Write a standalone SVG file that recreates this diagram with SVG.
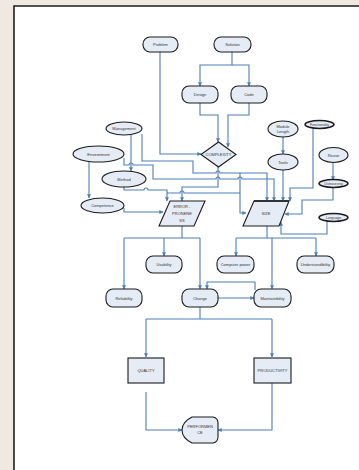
<svg xmlns="http://www.w3.org/2000/svg" width="359" height="470" viewBox="0 0 359 470">
<defs>
<marker id="ah" viewBox="0 0 6 6" refX="5.5" refY="3" markerWidth="4" markerHeight="4" orient="auto" markerUnits="userSpaceOnUse">
<path d="M0,0 L6,3 L0,6 Z" fill="#4a7ebb"/>
</marker>
</defs>
<style>
.bg{fill:#efe9e2}
.page{fill:#ffffff}
.frame{fill:none;stroke:#1e1e1e;stroke-width:1.6}
.n{fill:#e6ecf5;stroke:#1a1a1a;stroke-width:1.1}
.nt{fill:#e6ecf5;stroke:#1a1a1a;stroke-width:1.5}
.c{fill:none;stroke:#4a7ebb;stroke-width:1.1}
.ca{fill:none;stroke:#4a7ebb;stroke-width:1.1;marker-end:url(#ah)}
text{font-family:"Liberation Sans",Arial,sans-serif;font-size:4px;fill:#333;text-anchor:middle}
.s{font-size:3.4px}
</style>
<rect class="bg" x="0" y="0" width="359" height="470"/>
<rect class="page" x="14" y="6" width="345" height="464"/>
<path class="frame" d="M14,470 V6 H359"/>

<g id="connectors">
<path class="ca" d="M160,52 V154 H201"/>
<path class="ca" d="M232,52 V65 H200 V86"/>
<path class="ca" d="M232,65 H249 V86"/>
<path class="ca" d="M200,103 V115 H218 V142"/>
<path class="ca" d="M249,103 V115 H228 V147"/>
<path class="ca" d="M131,135 V171"/>
<path class="ca" d="M142,134 V161 H193 V173 H216 a2,2 0 0 1 4,0 H267 V201"/>
<path class="ca" d="M89,162 V198"/>
<path class="ca" d="M124,158 V165 H129 a2,2 0 0 1 4,0 H153 V179 H216 a2,2 0 0 1 4,0 H238 a2,2 0 0 1 4,0 H274 V201"/>
<path class="ca" d="M218,166 V187 H182 V201"/>
<path class="ca" d="M240,173 V213 H246"/>
<path class="ca" d="M124,187 V190 H144 a2,2 0 0 1 4,0 H167 V201"/>
<path class="c" d="M167,193 H180 a2,2 0 0 1 4,0 H240"/>
<path class="ca" d="M124,208 V212 H163"/>
<path class="ca" d="M283,137 V154"/>
<path class="ca" d="M283,170 V201"/>
<path class="ca" d="M313,128 V188 H290 V201"/>
<path class="ca" d="M333,163 V180"/>
<path class="ca" d="M333,187 V200 H302 V214 H285"/>
<path class="ca" d="M327,221 V234 H281 V222"/>
<path class="c" d="M182,226 V238 M124,238 H200"/>
<path class="ca" d="M124,238 V289"/>
<path class="ca" d="M164,238 V256"/>
<path class="ca" d="M200,238 V289"/>
<path class="c" d="M267,226 V238 M236,238 H316"/>
<path class="ca" d="M236,238 V256"/>
<path class="ca" d="M272,238 V289"/>
<path class="ca" d="M316,238 V256"/>
<path class="ca" d="M218,298 H254"/>
<path class="ca" d="M255,290 V282 H207 V289"/>
<path class="c" d="M200,307 V319 M146,319 H272"/>
<path class="ca" d="M146,319 V357"/>
<path class="ca" d="M272,319 V357"/>
<path class="ca" d="M146,392 V430 H182"/>
<path class="ca" d="M272,383 V430 H218"/>
</g>

<g id="problem"><rect class="n" x="143" y="37" width="35" height="15" rx="7"/><text x="160.5" y="46">Problem</text></g>
<g id="solution"><rect class="n" x="214" y="37" width="37" height="15" rx="7"/><text x="232.5" y="46">Solution</text></g>
<g id="design"><rect class="n" x="182" y="86" width="36" height="17" rx="7"/><text x="200" y="96">Design</text></g>
<g id="code"><rect class="n" x="231" y="86" width="36" height="17" rx="7"/><text x="249" y="96">Code</text></g>
<g id="complexity"><polygon class="n" points="218.5,142 236,154.5 218.5,167 201,154.5"/><text x="218.5" y="156">COMPLEXITY</text></g>
<g id="management"><ellipse class="n" cx="124" cy="128.5" rx="18" ry="6.5"/><text x="124" y="130">Management</text></g>
<g id="environment"><ellipse class="n" cx="98.5" cy="154" rx="25.5" ry="8"/><text x="98.5" y="155.5">Environment</text></g>
<g id="method"><ellipse class="n" cx="124" cy="179" rx="22" ry="8"/><text x="124" y="180.5">Method</text></g>
<g id="competence"><ellipse class="n" cx="102.5" cy="205.5" rx="21.5" ry="7.5"/><text x="102.5" y="207">Competence</text></g>
<g id="error-proneness"><polygon class="n" points="170,201 205,201 194,226 159,226"/><text x="182" y="208">ERROR -</text><text x="182" y="215">PRONENE</text><text x="182" y="222">SS</text></g>
<g id="size"><polygon class="n" points="254,201 289,201 279,226 243,226"/><path d="M254,201 H289" stroke="#333" stroke-width="2"/><text x="266" y="215">SIZE</text></g>
<g id="module-length"><ellipse class="n" cx="283" cy="129" rx="15" ry="8"/><text x="283" y="128">Module</text><text x="283" y="133">Length</text></g>
<g id="tools"><ellipse class="n" cx="283" cy="162" rx="15" ry="8"/><text x="283" y="163.5">Tools</text></g>
<g id="functionality"><ellipse class="nt" cx="319.5" cy="124.5" rx="14.5" ry="4"/><text class="s" x="319.5" y="125.8">Functionality</text></g>
<g id="reuse"><ellipse class="n" cx="333.5" cy="155" rx="14.5" ry="7.5"/><text x="333.5" y="156.5">Reuse</text></g>
<g id="outsourcing"><ellipse class="nt" cx="333.5" cy="183.5" rx="14.5" ry="4"/><text class="s" x="333.5" y="184.8">Outsourcing</text></g>
<g id="language"><ellipse class="nt" cx="333.5" cy="217.5" rx="14.5" ry="4"/><text class="s" x="333.5" y="218.8">Language</text></g>
<g id="usability"><rect class="n" x="146" y="256" width="36" height="17" rx="7"/><text x="164" y="266">Usability</text></g>
<g id="reliability"><rect class="n" x="106" y="289" width="36" height="18" rx="7"/><text x="124" y="299.5">Reliability</text></g>
<g id="change"><rect class="n" x="182" y="289" width="36" height="18" rx="7"/><text x="200" y="299.5">Change</text></g>
<g id="maintainibility"><rect class="n" x="254" y="289" width="37" height="18" rx="7"/><text x="272.5" y="299.5">Maintainibility</text></g>
<g id="computer-power"><rect class="n" x="217" y="256" width="37" height="17" rx="7"/><text x="235.5" y="266">Computer power</text></g>
<g id="understandibility"><rect class="n" x="297" y="256" width="37" height="17" rx="7"/><text x="315.5" y="266">Understandibility</text></g>
<g id="quality"><rect class="n" x="128" y="358" width="36" height="25"/><text x="146" y="372">QUALITY</text></g>
<g id="productivity"><rect class="n" x="254" y="358" width="37" height="25"/><text x="272.5" y="372">PRODUCTIVITY</text></g>
<g id="performance"><path class="n" d="M192,417 H213 Q218,418 218,423 V437 Q218,442 213,443 H192 Q182,438 182,430 Q182,422 192,417 Z"/><text x="200" y="428">PERFORMEN</text><text x="200" y="434">CE</text></g>
</svg>
